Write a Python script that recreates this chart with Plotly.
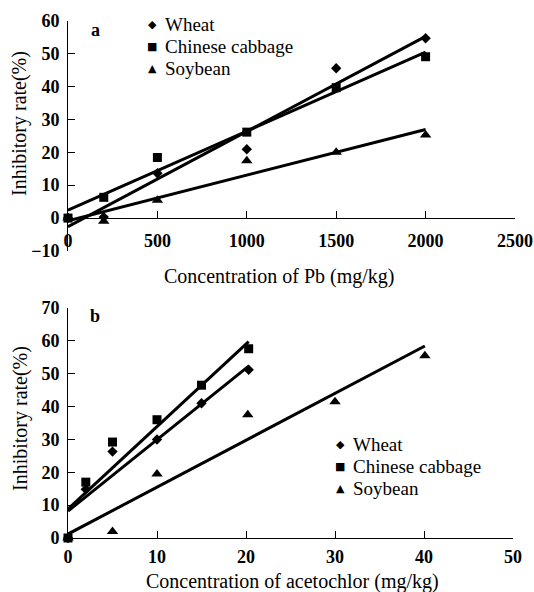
import plotly.graph_objects as go

# ---------------- data ----------------
series_names = ["Wheat", "Chinese cabbage", "Soybean"]
series_symbols = ["diamond", "square", "triangle-up"]
legend_glyphs = ["\u25c6", "\u25a0", "\u25b2"]

# Panel a: Pb
pb_x = [0, 200, 500, 1000, 1500, 2000]
pb_wheat = [0.0, 0.3, 13.6, 20.9, 45.5, 54.6]
pb_cabbage = [0.0, 6.3, 18.4, 26.1, 39.6, 49.0]
pb_soybean = [0.0, -1.0, 5.4, 17.4, 20.0, 25.2]
pb_trend_intercept = [-2.6, 2.4, -0.8]
pb_trend_slope = [0.0289, 0.0240, 0.01385]
pb_xticks = [0, 500, 1000, 1500, 2000, 2500]
pb_yticks = [-10, 0, 10, 20, 30, 40, 50, 60]

# Panel b: acetochlor
ace_x = [0, 2, 5, 10, 15, 20.3]
ace_soy_x = [0, 5, 10, 20.2, 30, 40.1]
ace_wheat = [0.0, 14.8, 26.3, 30.0, 41.0, 51.2]
ace_cabbage = [0.0, 17.0, 29.2, 36.0, 46.5, 57.6]
ace_soybean = [0.0, 2.0, 19.5, 37.5, 41.5, 55.5]
ace_trend_intercept = [8.2, 8.8, 1.2]
ace_trend_slope = [2.172, 2.512, 1.4275]
ace_xticks = [0, 10, 20, 30, 40, 50]
ace_yticks = [0, 10, 20, 30, 40, 50, 60, 70]

# ---------------- layout helpers ----------------
W, H = 534, 592
FONT = "Liberation Serif"


def px(x):
    return x / W


def py(y):
    return 1 - y / H


xdom_a = [px(68), px(515)]
xdom_b = [px(68), px(513)]
ya_dom = [py(251), py(20.5)]
yb_dom = [py(538), py(308)]

fig = go.Figure()

panel_a = [(pb_x, pb_wheat), (pb_x, pb_cabbage), (pb_x, pb_soybean)]
panel_b = [(ace_x, ace_wheat), (ace_x, ace_cabbage), (ace_soy_x, ace_soybean)]

# trend lines
for i in range(3):
    xs, _ = panel_a[i]
    lx = [min(xs), max(xs)]
    fig.add_trace(go.Scatter(x=lx, y=[pb_trend_intercept[i] + pb_trend_slope[i] * v for v in lx],
                             mode="lines", line=dict(color="black", width=3),
                             showlegend=False, xaxis="x", yaxis="y", cliponaxis=False))
    xs, _ = panel_b[i]
    lx = [min(xs), max(xs)]
    fig.add_trace(go.Scatter(x=lx, y=[ace_trend_intercept[i] + ace_trend_slope[i] * v for v in lx],
                             mode="lines", line=dict(color="black", width=3),
                             showlegend=False, xaxis="x2", yaxis="y2", cliponaxis=False))

sizes = [8, 9, 10]
for i in range(3):
    xs, ys = panel_a[i]
    fig.add_trace(go.Scatter(x=xs, y=ys, mode="markers", name=series_names[i], showlegend=False,
                             marker=dict(symbol=series_symbols[i], size=sizes[i], color="black"),
                             xaxis="x", yaxis="y", cliponaxis=False))
for i in range(3):
    xs, ys = panel_b[i]
    fig.add_trace(go.Scatter(x=xs, y=ys, mode="markers", name=series_names[i], showlegend=False,
                             marker=dict(symbol=series_symbols[i], size=sizes[i], color="black"),
                             xaxis="x2", yaxis="y2", cliponaxis=False))

tickfont = dict(family=FONT, size=18, color="black", weight="bold")
axis_common = dict(showline=True, linecolor="black", linewidth=1, ticks="inside",
                   ticklen=7, tickcolor="black", tickwidth=1, showgrid=False,
                   zeroline=False, tickfont=tickfont, automargin=False)

zero_a = ya_dom[0] + (0 - (-10)) / 70 * (ya_dom[1] - ya_dom[0])

fig.update_layout(
    template="none",
    width=W, height=H, autosize=False,
    margin=dict(l=0, r=0, t=0, b=0, pad=0),
    paper_bgcolor="white", plot_bgcolor="white",
    font=dict(family=FONT, color="black"),
    showlegend=False,
    xaxis=dict(domain=xdom_a, range=[0, 2500], tickvals=pb_xticks, anchor="free",
               position=zero_a, ticklabelstandoff=6, **axis_common),
    yaxis=dict(domain=ya_dom, range=[-10, 60], tickvals=pb_yticks, anchor="x",
               ticklabelstandoff=4, **axis_common),
    xaxis2=dict(domain=xdom_b, range=[0, 50], tickvals=ace_xticks, anchor="y2",
                ticklabelstandoff=2, **axis_common),
    yaxis2=dict(domain=yb_dom, range=[0, 70], tickvals=ace_yticks, anchor="x2",
                ticklabelstandoff=4, **axis_common),
)

title_font = dict(family=FONT, size=20, color="black")
legend_font = dict(family=FONT, size=19, color="black")
glyph_font = dict(family="DejaVu Sans", size=11, color="black")


def ann(text, x, y, font, xanchor="center", angle=0):
    return dict(text=text, x=px(x), y=py(y), xref="paper", yref="paper", showarrow=False,
                font=font, xanchor=xanchor, yanchor="middle", textangle=angle)


annotations = [
    ann("Concentration of Pb (mg/kg)", 279, 276, title_font),
    ann("Concentration of acetochlor (mg/kg)", 292, 581, title_font),
    ann("Inhibitory rate(%)", 20, 124, title_font, angle=-90),
    ann("Inhibitory rate(%)", 20, 419, title_font, angle=-90),
    ann("<b>a</b>", 95, 30, dict(family=FONT, size=18, color="black")),
    ann("<b>b</b>", 95, 316, dict(family=FONT, size=18, color="black")),
]
# manual legends (one per panel)
for legend_x, legend_y in [(152, 24), (340, 444)]:
    for i in range(3):
        yy = legend_y + i * 22
        annotations.append(ann(legend_glyphs[i], legend_x, yy, glyph_font))
        annotations.append(ann(series_names[i], legend_x + 11, yy, legend_font, xanchor="left"))

fig.update_layout(annotations=annotations)

fig.write_html("out.html", config={"displayModeBar": False},
               post_script="document.body.style.margin='0';")
